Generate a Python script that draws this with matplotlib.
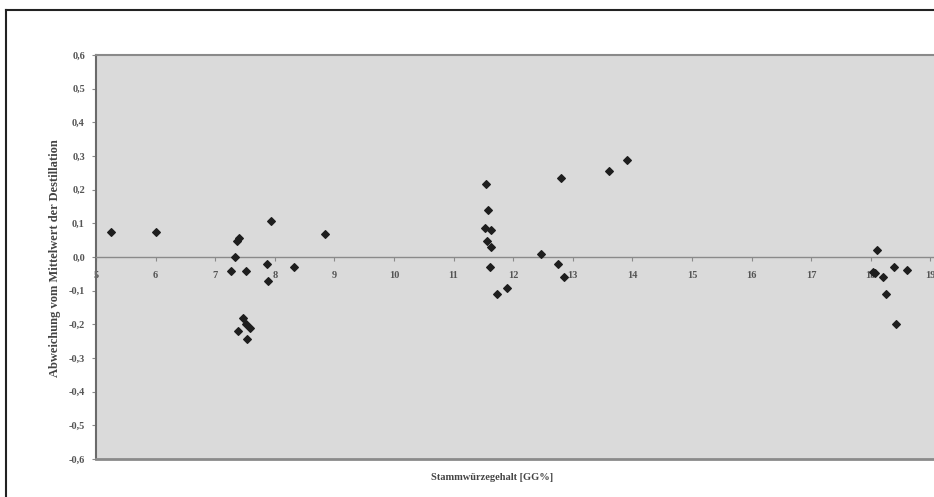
import matplotlib
matplotlib.use("Agg")
import matplotlib.pyplot as plt
from matplotlib.lines import Line2D

# Stammwuerzegehalt [GG%] vs. Abweichung vom Mittelwert der Destillation
stammwuerze = [5.26, 6.00,
               7.94, 8.84, 7.40, 7.37, 7.33, 7.27, 7.52, 7.87, 7.89, 8.32,
               7.46, 7.52, 7.58, 7.39, 7.54,
               11.55, 11.57, 11.52, 11.63, 11.56, 11.62, 11.61, 11.89, 11.73,
               12.47, 12.76, 12.86, 12.80, 13.61, 13.91,
               18.11, 18.07, 18.03, 18.21, 18.39, 18.61, 18.26, 18.42]
abweichung = [0.075, 0.075,
              0.107, 0.067, 0.056, 0.048, 0.000, -0.042, -0.042, -0.022, -0.071, -0.031,
              -0.180, -0.200, -0.212, -0.220, -0.243,
              0.217, 0.139, 0.087, 0.079, 0.048, 0.029, -0.031, -0.091, -0.110,
              0.008, -0.022, -0.060, 0.236, 0.255, 0.288,
              0.021, -0.049, -0.045, -0.059, -0.029, -0.038, -0.109, -0.199]

x_ticks = list(range(5, 21))
y_ticks = [0.6, 0.5, 0.4, 0.3, 0.2, 0.1, 0.0, -0.1, -0.2, -0.3, -0.4, -0.5, -0.6]

serif = ["Liberation Serif", "DejaVu Serif"]

fig = plt.figure(figsize=(9.34, 4.97), dpi=100)
W, H = 934, 497
# plot area runs off the right edge of the page, like the scan
ax = fig.add_axes([96 / W, 38 / H, 894 / W, 404 / H])
ax.set_facecolor("#dadada")

ax.scatter(stammwuerze, abweichung, marker="D", s=15, color="#1e1e1e", zorder=3)

ax.set_xlim(5, 20)
ax.set_ylim(-0.6, 0.6)

# x axis crosses at 0
ax.spines["bottom"].set_position(("data", 0))
ax.spines["bottom"].set_color("#8a8a8a")
ax.spines["bottom"].set_linewidth(1.0)
ax.spines["top"].set_color("#8a8a8a")
ax.spines["top"].set_linewidth(1.5)
ax.spines["right"].set_visible(False)
ax.spines["left"].set_color("#6a6a6a")
ax.spines["left"].set_linewidth(1.5)
ax.axhline(-0.6, color="#8a8a8a", lw=2.0, clip_on=False, zorder=4)

ax.set_xticks(x_ticks)
ax.set_xticklabels([str(t) for t in x_ticks])
ax.set_yticks(y_ticks)
ax.set_yticklabels([("%.1f" % t).replace(".", ",") for t in y_ticks])
ax.tick_params(axis="x", direction="out", length=3, color="#8a8a8a",
               labelsize=7.5, labelcolor="#555555", pad=7)
ax.tick_params(axis="y", direction="out", length=3, color="#8a8a8a",
               labelsize=7.5, labelcolor="#555555", pad=5)
for lab in ax.get_xticklabels() + ax.get_yticklabels():
    lab.set_family(serif)
    lab.set_fontweight("bold")

fig.text(55 / W, 1 - 258 / H, "Abweichung vom Mittelwert der Destillation",
         rotation=90, ha="center", va="center", fontsize=9, fontweight="bold",
         color="#444444", family=serif)
fig.text(492 / W, 1 - 478 / H, "Stammwürzegehalt [GG%]", ha="center",
         va="center", fontsize=7.5, fontweight="bold", color="#444444",
         family=serif)

# outer frame of the scanned page (right and bottom cut off)
fig.add_artist(Line2D([6 / W, 6 / W], [0, 1 - 10 / H], color="#222222",
                      lw=1.5, transform=fig.transFigure))
fig.add_artist(Line2D([6 / W, 1], [1 - 10 / H, 1 - 10 / H], color="#222222",
                      lw=1.5, transform=fig.transFigure))

fig.savefig("out.png", dpi=100)
